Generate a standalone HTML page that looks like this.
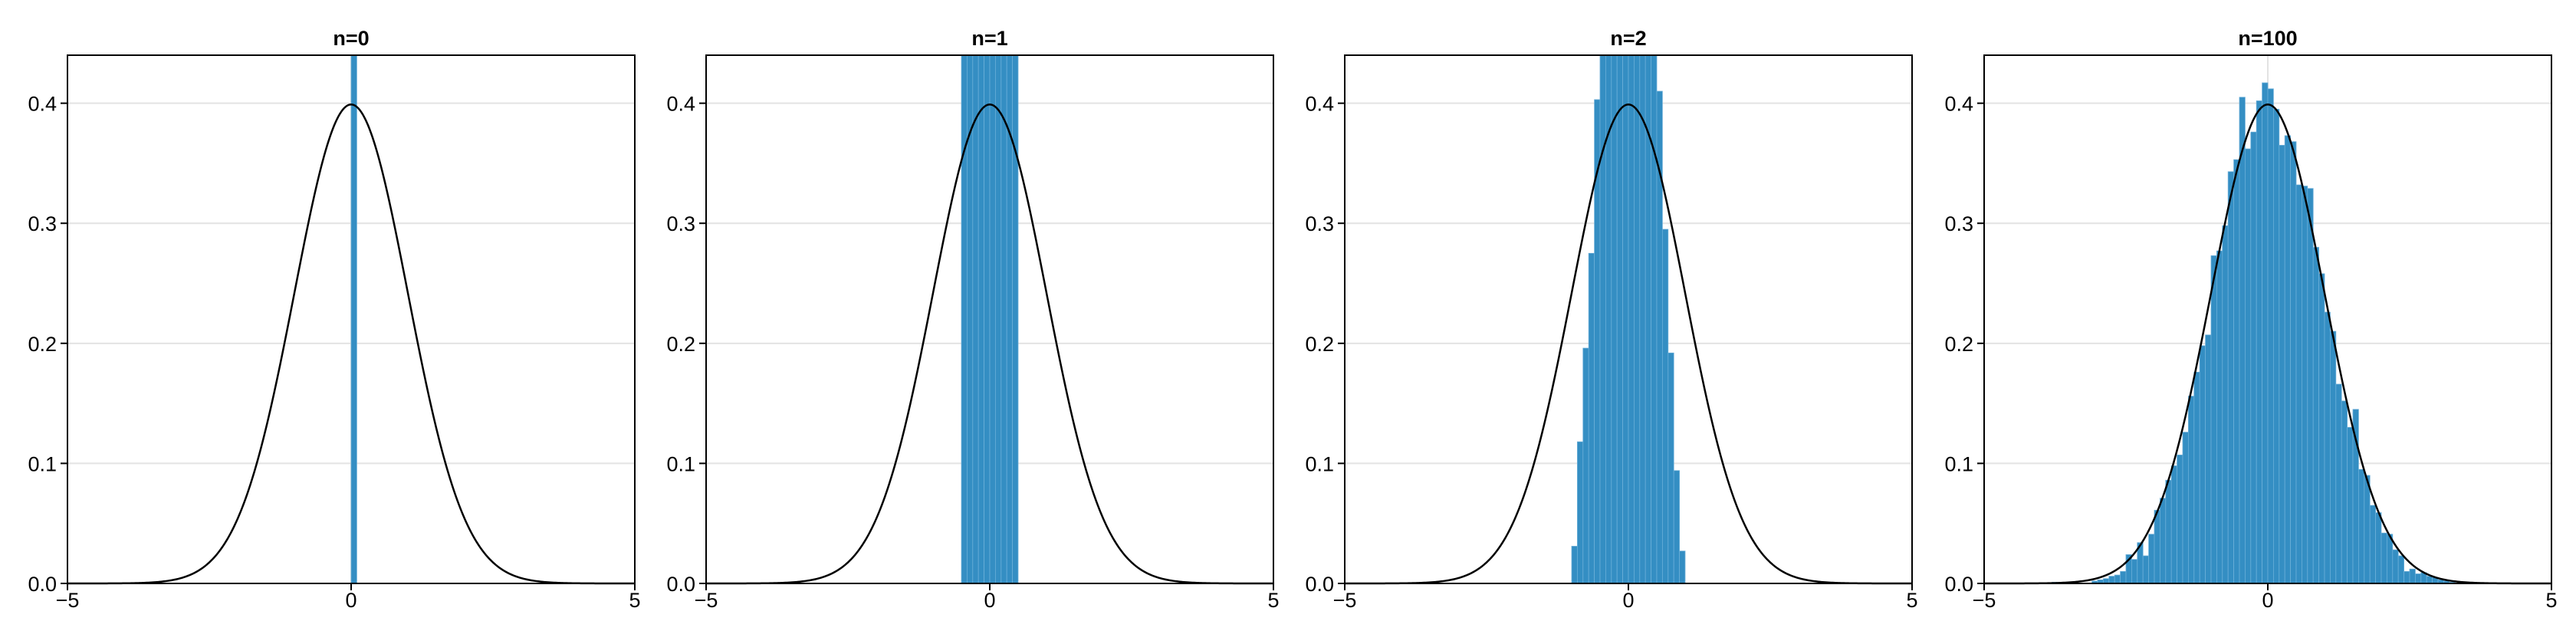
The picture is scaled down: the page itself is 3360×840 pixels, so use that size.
<!DOCTYPE html>
<html><head><meta charset="utf-8"><style>
html,body{margin:0;padding:0;background:#fff;}
svg{display:block;font-family:"Liberation Sans",sans-serif;}
</style></head><body>
<svg id="chart" width="3360" height="840" viewBox="0 0 3360 840" xmlns="http://www.w3.org/2000/svg"></svg>
<script>
const panelTitles = ["n=0","n=1","n=2","n=100"];
const xTicks = [-5,0,5];
const xTickLabels = ["\u22125","0","5"];
const yTicks = [0,0.1,0.2,0.3,0.4];
const yTickLabels = ["0.0","0.1","0.2","0.3","0.4"];
const normalMu = [0];
const normalSigma = [1];
const binWidth = [0.1];
const h0Start = [0];
const h0 = [10];
const h1Start = [-0.5];
const h1 = [1,1,1,1,1,1,1,1,1,1];
const h2Start = [-1.0];
const h2 = [0.031,0.118,0.196,0.275,0.403,0.55,0.65,0.75,0.85,0.95,0.95,0.85,0.75,0.65,0.55,0.41,0.295,0.192,0.094,0.027];
const h100Start = [-3.8];
const h100 = [0.001,0.0,0.0,0.0,0.0,0.0,0.0,0.002,0.003,0.004,0.006,0.007,0.010,0.024,0.020,0.034,0.023,0.041,0.061,0.071,0.086,0.098,0.107,0.126,0.156,0.176,0.198,0.207,0.273,0.277,0.298,0.343,0.353,0.405,0.362,0.376,0.402,0.417,0.412,0.395,0.365,0.373,0.368,0.332,0.331,0.329,0.280,0.258,0.226,0.210,0.166,0.152,0.130,0.145,0.095,0.090,0.065,0.059,0.042,0.041,0.028,0.023,0.010,0.012,0.008,0.009,0.006,0.005,0.003,0.002,0.001];

const svg = document.getElementById('chart');
const NS = "http://www.w3.org/2000/svg";
const panelLefts = [88,921,1754,2588];
const PW = 740, TOP = 72, BOT = 761;
const XMIN=-5, XMAX=5, YMIN=0, YMAX=0.44;
function mk(tag, attrs, parent){const e=document.createElementNS(NS,tag);for(const k in attrs)e.setAttribute(k,attrs[k]);(parent||svg).appendChild(e);return e;}

const hists = [[h0Start,h0],[h1Start,h1],[h2Start,h2],[h100Start,h100]];
panelTitles.forEach((title,pi)=>{
  const L = panelLefts[pi];
  const sx = v => L + (v-XMIN)/(XMAX-XMIN)*PW;
  const sy = v => BOT - (v-YMIN)/(YMAX-YMIN)*(BOT-TOP);
  const g = mk('g',{});
  
  
  const clipId='clip'+pi;
  const cp = mk('clipPath',{id:clipId},g);
  mk('rect',{x:L,y:TOP,width:PW,height:BOT-TOP},cp);
  // grid
  yTicks.forEach(t=>{
    const l=mk('line',{x1:L,x2:L+PW,y1:sy(t),y2:sy(t),stroke:'#e3e3e3','stroke-width':2},g);
    
    
  });
  xTicks.forEach(t=>{
    const l=mk('line',{x1:sx(t),x2:sx(t),y1:TOP,y2:BOT,stroke:'#e3e3e3','stroke-width':2},g);
    
    
  });
  // histogram
  const hg = mk('g',{'clip-path':'url(#'+clipId+')'},g);
  
  
  const [start, vals] = hists[pi];
  vals.forEach((v,i)=>{
    if(v<=0) return;
    const x0 = start[0] + i*binWidth[0], x1 = x0 + binWidth[0];
    const r = mk('rect',{x:sx(x0),y:sy(v),width:sx(x1)-sx(x0),height:sy(0)-sy(v),fill:'#348ec3',stroke:'#6aaed8','stroke-width':0.8},hg);
    
    
  });
  // normal pdf
  let d='';
  for(let k=0;k<=400;k++){
    const x = XMIN + (XMAX-XMIN)*k/400;
    const y = Math.exp(-0.5*((x-normalMu[0])/normalSigma[0])**2)/(normalSigma[0]*Math.sqrt(2*Math.PI));
    d += (k?'L':'M')+sx(x).toFixed(2)+','+sy(y).toFixed(2);
  }
  const p = mk('path',{d:d,fill:'none',stroke:'#000','stroke-width':2.5},g);
  
  
  // frame
  const f = mk('rect',{x:L,y:TOP,width:PW,height:BOT-TOP,fill:'none',stroke:'#000','stroke-width':2},g);
  
  
  // ticks + labels
  yTicks.forEach((t,i)=>{
    mk('line',{x1:L-9,x2:L,y1:sy(t),y2:sy(t),stroke:'#000','stroke-width':2},g);
    const tx = mk('text',{x:L-14,y:sy(t)+10,'text-anchor':'end','font-size':27,fill:'#000'},g);
    tx.textContent = yTickLabels[i];
    
    
  });
  xTicks.forEach((t,i)=>{
    mk('line',{x1:sx(t),x2:sx(t),y1:BOT,y2:BOT+9,stroke:'#000','stroke-width':2},g);
    const tx = mk('text',{x:sx(t),y:BOT+31,'text-anchor':'middle','font-size':27,fill:'#000'},g);
    tx.textContent = xTickLabels[i];
    
    
  });
  const tt = mk('text',{x:L+PW/2,y:59,'text-anchor':'middle','font-size':27,'font-weight':'bold',fill:'#000'},g);
  tt.textContent = title;
  
  
});
</script>
</body></html>
